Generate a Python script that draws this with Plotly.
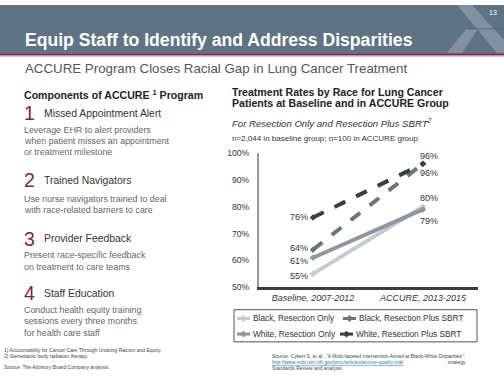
import plotly.graph_objects as go

W, H = 504, 378

# ---------------- data ----------------
categories = ["Baseline, 2007-2012", "ACCURE, 2013-2015"]
series_names = ["Black, Resection Only", "White, Resection Only",
                "Black, Resection Plus SBRT", "White, Resection Plus SBRT"]
black_resection_only = [55, 80]
white_resection_only = [61, 79]
black_resection_sbrt = [64, 96]
white_resection_sbrt = [76, 96]
y_tick_values = [50, 60, 70, 80, 90, 100]
y_tick_labels = ["50%", "60%", "70%", "80%", "90%", "100%"]

series_values = [black_resection_only, white_resection_only,
                 black_resection_sbrt, white_resection_sbrt]
series_colors = ["#c6cacd", "#8d979f", "#6b757d", "#3a3f45"]
series_dash = ["solid", "solid", "dash", "dash"]

FONT = "Liberation Sans, Arial, sans-serif"


def px(x):
    return x / W


def py(y):
    return 1 - y / H


fig = go.Figure()

for name, vals, col, dash in zip(series_names, series_values, series_colors, series_dash):
    fig.add_trace(go.Scatter(
        x=categories, y=vals, name=name, mode="lines+markers",
        line=dict(color=col, width=4, dash=dash),
        marker=dict(symbol="diamond", size=5, color=col),
        showlegend=False, hoverinfo="skip",
    ))

annotations = []
shapes = []

# ---- data labels ----
label_specs = [
    (3, 0, "right", -3, 0), (2, 0, "right", -3, 2), (1, 0, "right", -3, -3), (0, 0, "right", -3, -2),
    (3, 1, "center", 6, 8), (2, 1, "center", 6, -9), (0, 1, "center", 6, 9), (1, 1, "center", 6, -12),
]
for si, pi, xa, xs, ys in label_specs:
    v = series_values[si][pi]
    annotations.append(dict(
        x=categories[pi], y=v, xref="x", yref="y", text=f"{v}%", showarrow=False,
        xanchor=xa, yanchor="middle", xshift=xs, yshift=ys,
        font=dict(family=FONT, size=9, color="#333333"),
    ))

# ---- header ----
shapes.append(dict(type="rect", xref="paper", yref="paper", x0=0, x1=1, y0=py(49.5), y1=1,
                   fillcolor="#5e7383", line=dict(width=0), layer="below"))
logo_col = "#8191a0"


def path(points):
    return "M " + " L ".join(f"{px(a):.5f},{py(b):.5f}" for a, b in points) + " Z"


shapes.append(dict(type="path", xref="paper", yref="paper",
                   path=path([(457, 0), (472, 0), (504, 36), (504, 49), (497, 49)]),
                   fillcolor=logo_col, line=dict(width=0), layer="below"))
shapes.append(dict(type="path", xref="paper", yref="paper",
                   path=path([(447, 49), (462, 49), (478, 25), (466, 25)]),
                   fillcolor=logo_col, line=dict(width=0), layer="below"))
shapes.append(dict(type="line", xref="paper", yref="paper", x0=px(468), x1=px(504), y0=py(24.5), y1=py(24.5),
                   line=dict(color="#55697a", width=1), layer="below"))
shapes.append(dict(type="rect", xref="paper", yref="paper", x0=0, x1=1, y0=py(52), y1=py(49.5),
                   fillcolor="#7a2a46", line=dict(width=0), layer="below"))
shapes.append(dict(type="rect", xref="paper", yref="paper", x0=0, x1=1, y0=py(53.5), y1=py(52.5),
                   fillcolor="#e3c9d3", line=dict(width=0), layer="below"))


def txt(x, y, text, size, color="#333333", xanchor="left", yanchor="middle", bold=False, italic=False):
    t = text
    if bold:
        t = f"<b>{t}</b>"
    if italic:
        t = f"<i>{t}</i>"
    if xanchor == "left":
        x = x - 2
    annotations.append(dict(x=px(x), y=py(y), xref="paper", yref="paper", text=t, showarrow=False,
                            xanchor=xanchor, yanchor=yanchor,
                            font=dict(family=FONT, size=size, color=color)))


txt(499, 8, "13", 7, color="#ffffff", xanchor="right")
txt(25, 36, "Equip Staff to Identify and Address Disparities", 17.6, color="#ffffff", bold=True)
txt(25, 65, "ACCURE Program Closes Racial Gap in Lung Cancer Treatment", 13.3, color="#555555")

# ---- left column ----
txt(24, 92, "Components of ACCURE <sup>1</sup> Program", 10.6, color="#222222", bold=True)
items = [
    (111, "1", "Missed Appointment Alert",
     ["Leverage EHR to alert providers", "when patient misses an appointment", "or treatment milestone"], 128),
    (180, "2", "Trained Navigators",
     ["Use nurse navigators trained to deal", "with race-related barriers to care"], 199),
    (240, "3", "Provider Feedback",
     ["Present race-specific feedback", "on treatment to care teams"], 257),
    (296, "4", "Staff Education",
     ["Conduct health equity training", "sessions every three months", "for health care staff"], 313),
]
for yy, num, head, lines, y0 in items:
    txt(24, yy, num, 19.5, color="#7d2248")
    txt(44, yy, head, 10.4, color="#333333")
    for k, ln in enumerate(lines):
        txt(24, y0 + k * 11.7, ln, 8.9, color="#666666")

txt(4, 354, "1) Accountability for Cancer Care Through Undoing Racism and Equity.", 5, color="#444444")
txt(4, 361, "2) Stereotactic body radiation therapy.", 5, color="#444444")
txt(4, 372, "Source: The Advisory Board Company analysis.", 5, color="#444444")

# ---- right column header ----
txt(232, 89, "Treatment Rates by Race for Lung Cancer", 10.6, color="#222222", bold=True)
txt(232, 101, "Patients at Baseline and in ACCURE Group", 10.6, color="#222222", bold=True)
txt(232, 121, "For Resection Only and Resection Plus SBRT<sup>2</sup>", 9.6, color="#333333", italic=True)
txt(232, 137, "n=2,044 in baseline group; n=100 in ACCURE group", 8, color="#333333")

# ---- manual legend ----
shapes.append(dict(type="rect", xref="paper", yref="paper", x0=px(234), x1=px(477), y0=py(346), y1=py(313),
                   line=dict(color="#555555", width=1), fillcolor="rgba(0,0,0,0)"))
legend_pos = [(237, 322), (237, 338), (343, 322), (340, 338)]
for (lx, ly), name, col in zip(legend_pos, series_names, series_colors):
    shapes.append(dict(type="line", xref="paper", yref="paper", x0=px(lx), x1=px(lx + 13), y0=py(ly), y1=py(ly),
                       line=dict(color=col, width=3)))
    cx = lx + 6.5
    shapes.append(dict(type="path", xref="paper", yref="paper",
                       path=path([(cx - 3.5, ly), (cx, ly - 3.5), (cx + 3.5, ly), (cx, ly + 3.5)]),
                       fillcolor=col, line=dict(width=0)))
    txt(lx + 16, ly, name, 8.3, color="#333333")

# ---- right footnote ----
txt(272, 361, "Source: Cykert S, et al., \u201cA Multi-faceted Intervention Aimed at Black-White Disparities\u201d;", 5, color="#444444")
txt(272, 367, "<u>http://www.ncbi.nlm.nih.gov/pmc/articles/accure-quality-trial</u>", 5, color="#1b7fa3")
txt(445, 367, "; strategy", 5, color="#444444")
txt(272, 373, "Standards Review and analysis.", 5, color="#444444")

fig.update_layout(
    width=W, height=H,
    margin=dict(l=0, r=0, t=0, b=0),
    paper_bgcolor="#ffffff", plot_bgcolor="#ffffff",
    showlegend=False,
    annotations=annotations,
    shapes=shapes,
    xaxis=dict(
        domain=[259 / W, 478 / W], type="category", range=[-0.49, 1.5],
        tickvals=categories, ticktext=[f"<i>{c}</i>" for c in categories],
        showgrid=False, zeroline=False, showline=True, linecolor="#3d3d3d", linewidth=2.5,
        ticks="", tickfont=dict(family=FONT, size=9, color="#333333"),
    ),
    yaxis=dict(
        domain=[1 - 290 / H, 1 - 152 / H], range=[50, 100],
        tickvals=y_tick_values, ticktext=y_tick_labels,
        showgrid=False, zeroline=False, showline=True, linecolor="#9a9a9a", linewidth=2,
        ticks="", ticklabelstandoff=6, tickfont=dict(family=FONT, size=8.6, color="#333333"),
    ),
)

fig.write_html("out.html", config={"displayModeBar": False},
               post_script="document.body.style.margin='0';document.body.style.overflow='hidden';")
